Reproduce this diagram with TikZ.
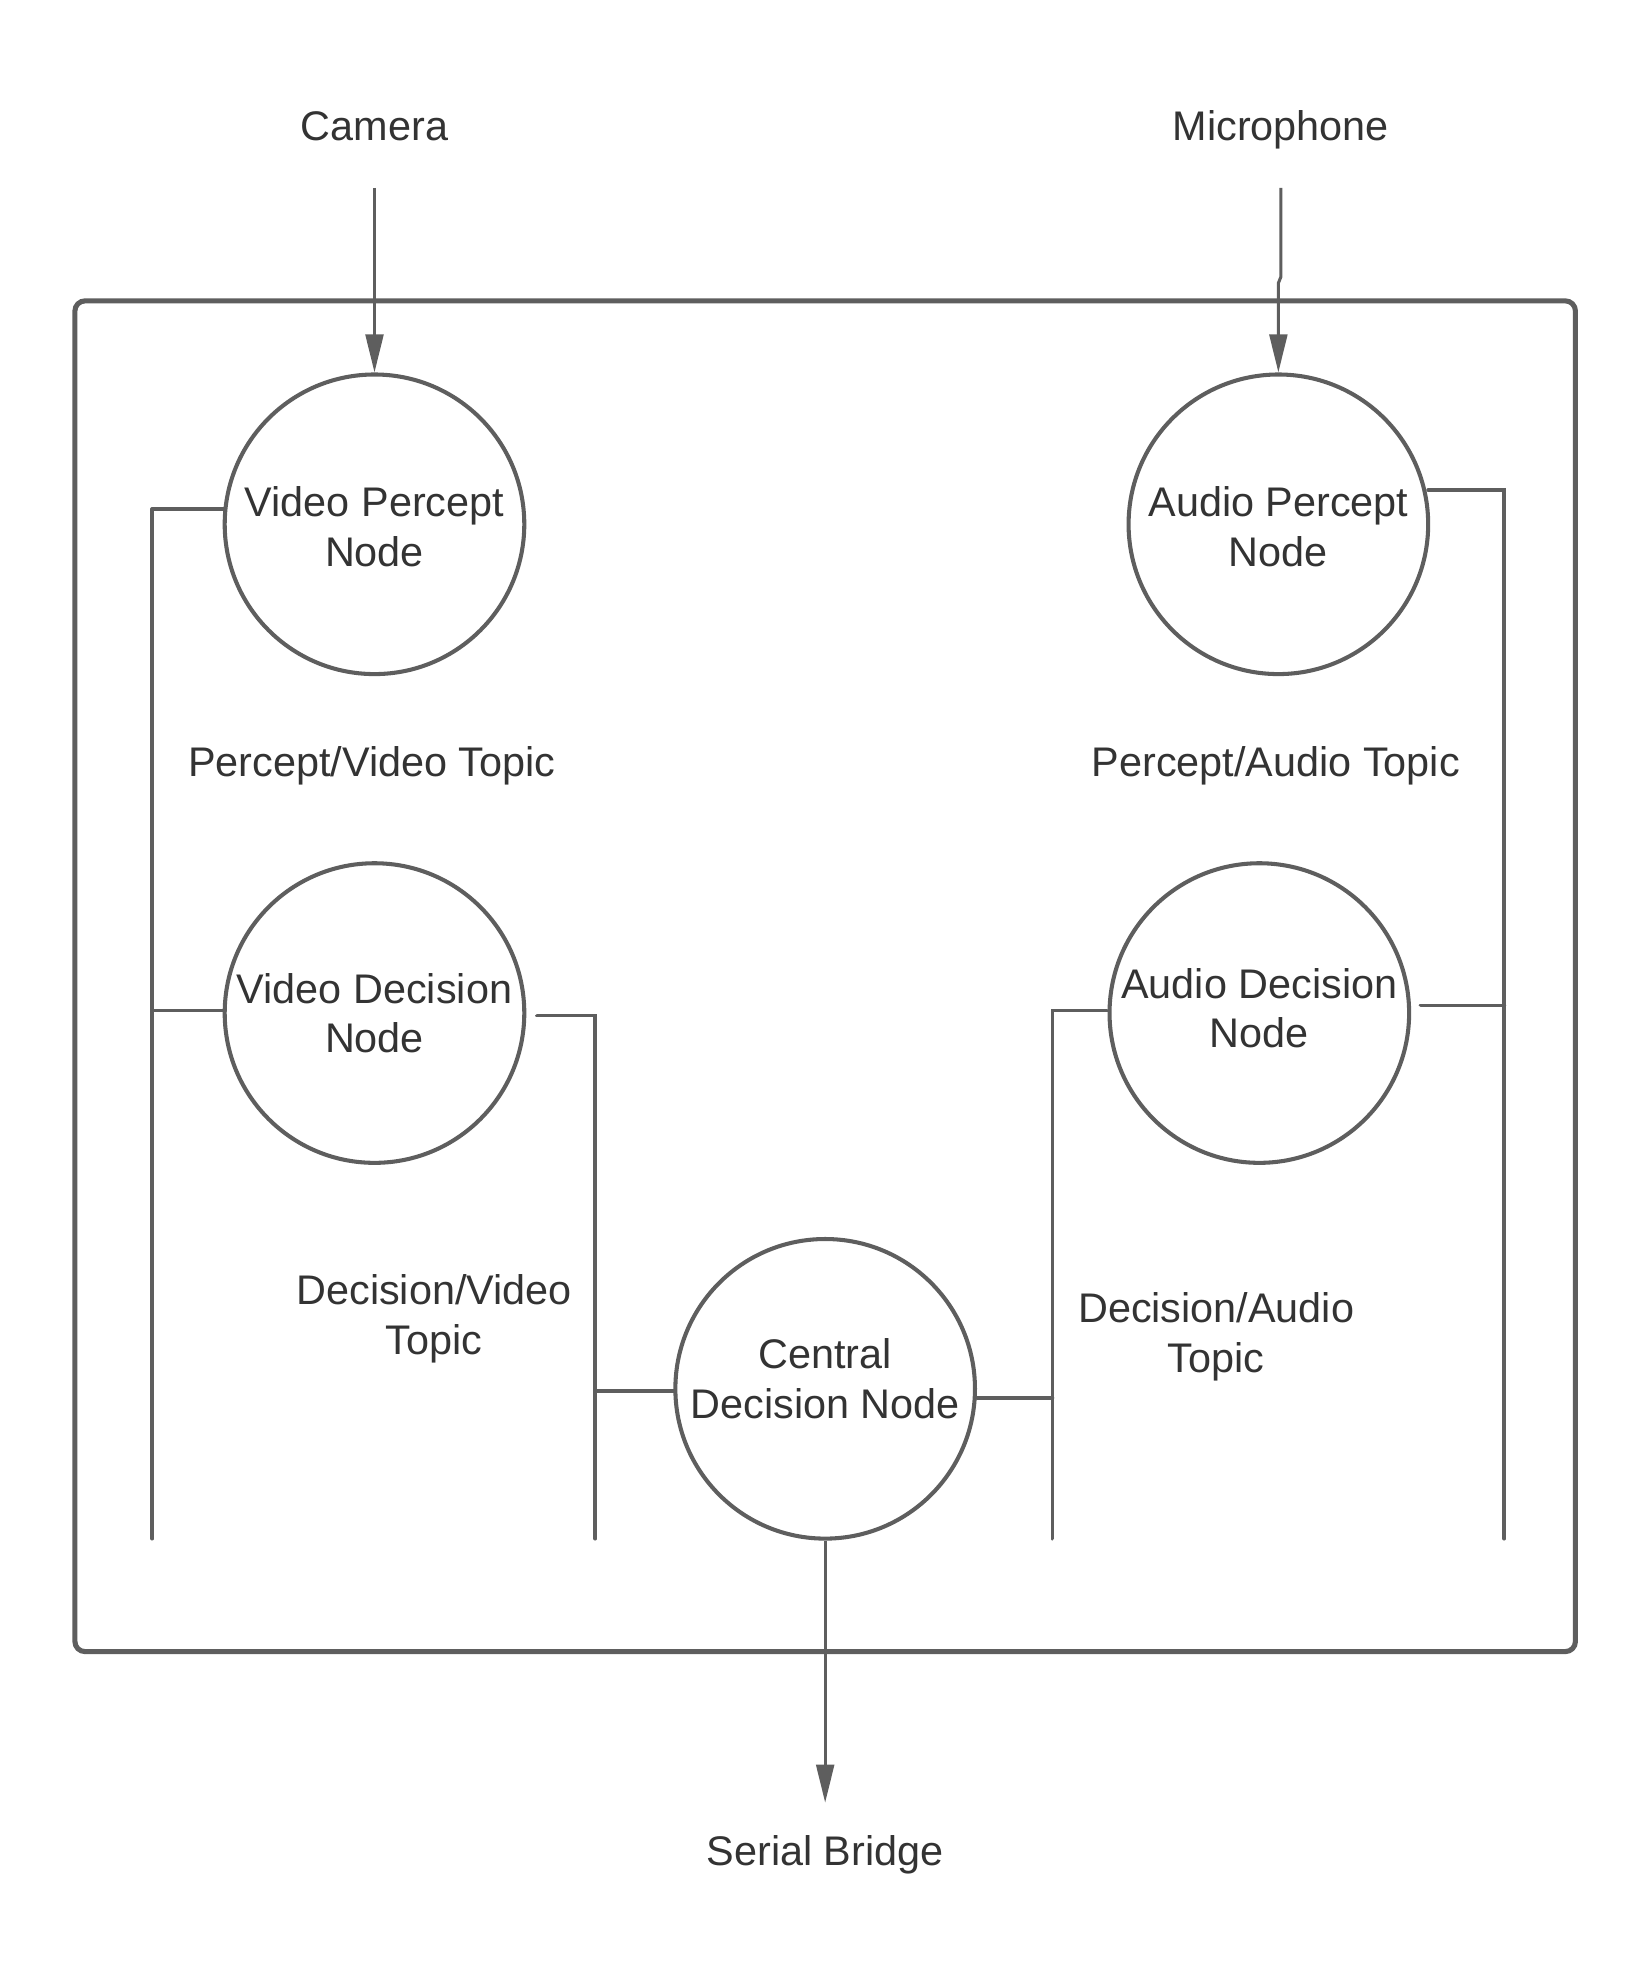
\documentclass[tikz,border=0pt]{standalone}
\usepackage{fontspec}
\setmainfont{Liberation Sans}
\usetikzlibrary{arrows.meta}
\definecolor{ln}{HTML}{5E5E5E}
\definecolor{tx}{HTML}{333333}
\begin{document}
\begin{tikzpicture}[x=0.5pt,y=-0.5pt,
  every node/.style={text=tx,font=\fontsize{16.3}{19.5}\selectfont,align=center,inner sep=0pt},
  proc/.style={circle,draw=ln,line width=1.6pt,minimum size=118pt},
  bus/.style={draw=ln,line width=1.5pt,line cap=round},
  flow/.style={draw=ln,line width=1.2pt,-{Triangle[length=15pt,width=7pt]}}]
\useasboundingbox (0,0) rectangle (1300,1566);
% frame
\draw[draw=ln,line width=2pt,rounded corners=4pt] (59,237) rectangle (1241,1301);
% texts
\node[anchor=base] (cam) at (295,111) {Camera};
\node[anchor=base] (mic) at (1009,111) {Microphone};
\node (sb) at (650,1461) {Serial Bridge};
\node (pvt) at (293,603) {Percept/Video Topic};
\node (pat) at (1005,603) {Percept/Audio Topic};
\node (dvt) at (342,1039) {Decision/Video\\Topic};
\node (dat) at (958,1053) {Decision/Audio\\Topic};
% circles
\node[proc] (vp) at (295,413) {};
\node at (vp) [yshift=-1pt] {Video Percept\\Node};
\node[proc] (ap) at (1007,413) {};
\node at (ap) [yshift=-1pt] {Audio Percept\\Node};
\node[proc] (vd) at (295,798) {};
\node at (vd) {Video Decision\\Node};
\node[proc] (ad) at (992,798) {};
\node at (ad) [yshift=2pt] {Audio Decision\\Node};
\node[proc] (cd) at (650,1094) {};
\node at (cd) [yshift=4pt] {Central\\Decision Node};
% arrows
\coordinate (camend) at (295,148);
\coordinate (micend) at (1009,148);
\coordinate (mj1) at (1009,218);
\coordinate (mj2) at (1007,223);
\coordinate (sbend) at (650,1420);
\draw[flow] (camend) -- (vp.north);
\draw[flow] (micend) -- (mj1) -- (mj2) -- (ap.north);
\draw[flow] (cd.south) -- (sbend);
% left bus (percept/video)
\coordinate (lb1) at (120,401);
\coordinate (lb2) at (120,796);
\coordinate (lb3) at (120,1212);
\draw[bus] (lb1) -- (lb3);
\draw[bus] (lb1) -- (lb1 -| vp.174);
\draw[bus] (lb2) -- (lb2 -| vd.west);
% decision/video bus
\coordinate (vd1) at (423,800);
\coordinate (vd2) at (469,800);
\coordinate (vd3) at (469,1096);
\coordinate (vd4) at (469,1212);
\draw[bus] (vd1) -- (vd2) -- (vd4);
\draw[bus] (vd3) -- (vd3 -| cd.west);
% right bus (percept/audio)
\coordinate (rb0) at (1125,386);
\coordinate (rb1) at (1185,386);
\coordinate (rb2) at (1119,792);
\coordinate (rb3) at (1185,792);
\coordinate (rb4) at (1185,1212);
\draw[bus] (rb0) -- (rb1) -- (rb4);
\draw[bus] (rb2) -- (rb3);
% decision/audio bus
\coordinate (ad1) at (872,796);
\coordinate (ad2) at (829,796);
\coordinate (ad3) at (829,1101);
\coordinate (ad4) at (829,1212);
\draw[bus] (ad1) -- (ad2) -- (ad4);
\draw[bus] (ad3 -| cd.east) -- (ad3);
\end{tikzpicture}
\end{document}
